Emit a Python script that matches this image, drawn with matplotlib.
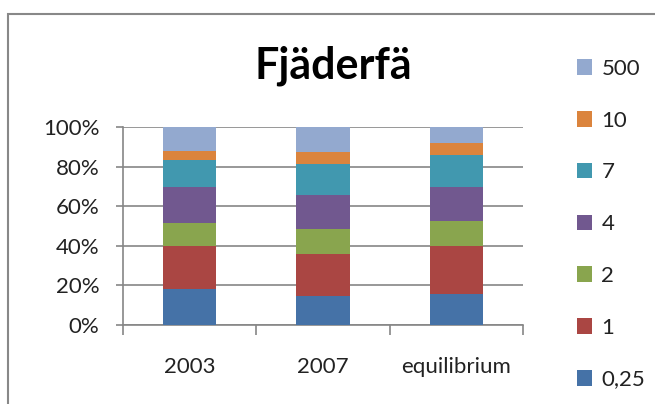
import numpy as np
import matplotlib.pyplot as plt
from matplotlib.patches import Patch, Rectangle

categories = ["2003", "2007", "equilibrium"]
series_names = ["0,25", "1", "2", "4", "7", "10", "500"]
# percent share per series, one value per category
s_025 = [18.4, 14.7, 15.9]
s_1 = [21.4, 21.4, 24.1]
s_2 = [11.6, 12.3, 12.3]
s_4 = [18.4, 17.4, 17.5]
s_7 = [13.7, 15.7, 16.2]
s_10 = [4.5, 5.7, 5.9]
s_500 = [12.0, 12.8, 8.1]
series = [s_025, s_1, s_2, s_4, s_7, s_10, s_500]
colors = ["#4572A7", "#AA4643", "#89A54E", "#71588F", "#4198AF", "#DB843D", "#93A9CF"]

plt.rcParams['font.family'] = ['Lato', 'DejaVu Sans']
fs = 16

fig = plt.figure(figsize=(6.55, 4.04), dpi=100)
W, H = 655, 404
ax = fig.add_axes([123 / W, 1 - 325 / H, 400 / W, 198 / H])

x = np.arange(len(categories))
bottom = np.zeros(len(categories))
for vals, col, name in zip(series, colors, series_names):
    v = np.array(vals)
    ax.bar(x, v, 0.4, bottom=bottom, color=col, label=name, zorder=3)
    bottom += v

ax.set_xlim(-0.5, 2.5)
ax.set_ylim(0, 100)
ax.set_yticks(np.arange(0, 101, 20))
ax.set_yticklabels([f"{t}%" for t in range(0, 101, 20)], fontsize=fs, color='#222222')
ax.grid(axis='y', color='#868686', lw=1.2, zorder=0)
ax.set_xticks([-0.5, 0.5, 1.5, 2.5])
ax.set_xticklabels([])
ax.set_xticks(x, minor=True)
ax.set_xticklabels(categories, minor=True, fontsize=fs, color='#222222')
ax.tick_params(axis='x', which='major', length=7, color='#868686', width=1.2)
ax.tick_params(axis='x', which='minor', length=0, pad=23)
ax.tick_params(axis='y', length=5, color='#868686', width=1.2, pad=12)
for s in ['top', 'right']:
    ax.spines[s].set_visible(False)
for s in ['left', 'bottom']:
    ax.spines[s].set_color('#868686')
    ax.spines[s].set_linewidth(1.2)

fig.text(333 / W, 1 - 66 / H, "Fjäderfä", fontsize=31, fontweight='bold',
         ha='center', va='center')

handles = [Patch(facecolor=c, edgecolor='none') for c in colors][::-1]
fig.legend(handles, series_names[::-1], loc='upper left',
           bbox_to_anchor=(568 / W, 1 - 50 / H), frameon=False, fontsize=fs,
           handlelength=0.7, handleheight=0.7, handletextpad=0.4,
           labelspacing=1.43, borderaxespad=0, labelcolor='#222222')

fig.patches.append(Rectangle((8 / W, -0.1), 1.2, 1 - 14 / H + 0.1,
                             transform=fig.transFigure, fill=False,
                             edgecolor='#888888', lw=1.5))

fig.savefig("out.png", dpi=100)
